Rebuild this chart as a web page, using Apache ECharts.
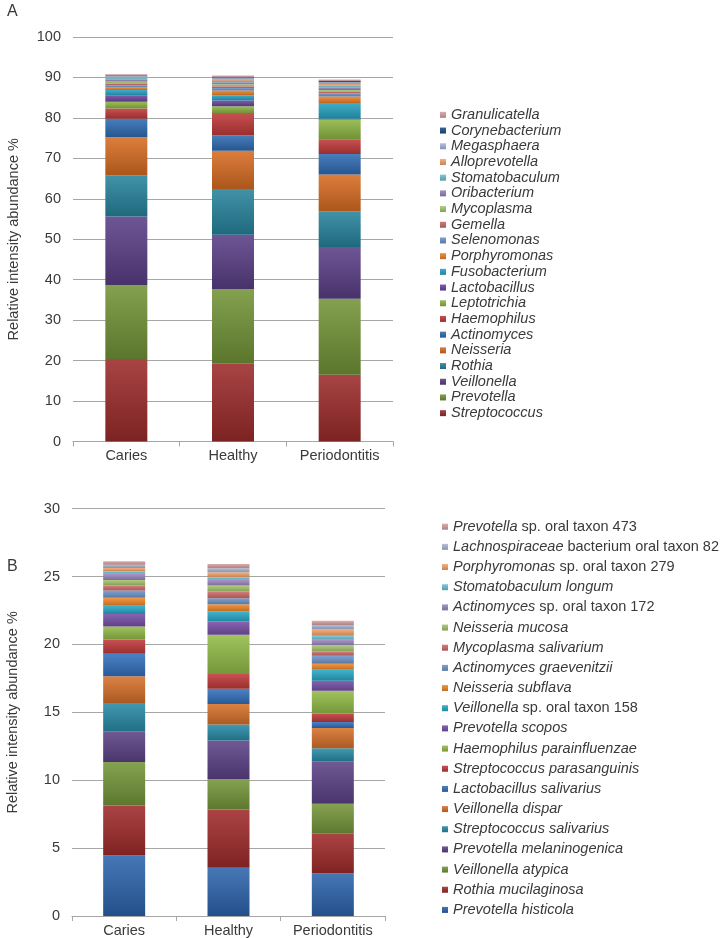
<!DOCTYPE html>
<html><head><meta charset="utf-8">
<script src="https://cdn.jsdelivr.net/npm/echarts@6/dist/echarts.min.js"></script>
<style>html,body{margin:0;padding:0;background:#fff}#c{width:720px;height:938px}</style>
</head><body><div id="c"></div>
<script>
const categories = ['Caries', 'Healthy', 'Periodontitis'];

const namesA = ['Streptococcus','Prevotella','Veillonella','Rothia','Neisseria','Actinomyces','Haemophilus','Leptotrichia','Lactobacillus','Fusobacterium','Porphyromonas','Selenomonas','Gemella','Mycoplasma','Oribacterium','Stomatobaculum','Alloprevotella','Megasphaera','Corynebacterium','Granulicatella'];
const valuesA_Caries        = [20.4, 18.3, 16.9, 10.2, 9.4, 4.6, 2.5, 1.7, 1.5, 1.4, 0.6, 0.6, 0.4, 0.5, 0.5, 0.4, 0.3, 0.3, 0.1, 0.2];
const valuesA_Healthy       = [19.2, 18.5, 13.4, 11.3, 9.5, 3.8, 5.5, 1.7, 1.4, 1.3, 1.2, 0.6, 0.4, 0.5, 0.5, 0.4, 0.4, 0.4, 0.2, 0.3];
const valuesA_Periodontitis = [16.5, 18.8, 12.8, 8.8, 9.1, 5.1, 3.6, 4.9, 0.2, 3.9, 1.6, 0.8, 0.4, 0.4, 0.6, 0.5, 0.4, 0.4, 0.4, 0.3];

const namesB = ['Prevotella histicola','Rothia mucilaginosa','Veillonella atypica','Prevotella melaninogenica','Streptococcus salivarius','Veillonella dispar','Lactobacillus salivarius','Streptococcus parasanguinis','Haemophilus parainfluenzae','Prevotella scopos','Veillonella sp. oral taxon 158','Neisseria subflava','Actinomyces graevenitzii','Mycoplasma salivarium','Neisseria mucosa','Actinomyces sp. oral taxon 172','Stomatobaculum longum','Porphyromonas sp. oral taxon 279','Lachnospiraceae bacterium oral taxon 82','Prevotella sp. oral taxon 473'];
const valuesB_Caries        = [4.46, 3.68, 3.21, 2.25, 2.09, 1.96, 1.67, 1.05, 0.95, 0.93, 0.60, 0.59, 0.53, 0.37, 0.41, 0.45, 0.19, 0.25, 0.24, 0.25];
const valuesB_Healthy       = [3.56, 4.29, 2.25, 2.82, 1.18, 1.52, 1.12, 1.08, 2.89, 0.98, 0.74, 0.54, 0.44, 0.49, 0.44, 0.42, 0.19, 0.37, 0.30, 0.31];
const valuesB_Periodontitis = [3.14, 2.92, 2.20, 3.14, 0.95, 1.50, 0.44, 0.61, 1.70, 0.73, 0.81, 0.44, 0.59, 0.32, 0.45, 0.40, 0.30, 0.50, 0.30, 0.30];

const ticksA = [0,10,20,30,40,50,60,70,80,90,100];
const ticksB = [0,5,10,15,20,25,30];

const colorsA = ['#9c2b2a','#729437','#5a3f86','#27839c','#d76c22','#2f6cb3','#c0393a','#8db542','#6d45a0','#27a2c2','#ee8228','#6f94cb','#cf6a69','#a7c86e','#9883bd','#6cc0d5','#f5a56b','#a8b8d8','#1f4e8c','#d8a0a0'];
const colorsB = ['#2d64ac','#a02b2b','#74963a','#5c4287','#288ba6','#d6702a','#3371bd','#c0393a','#93bc48','#7750a6','#28a9c7','#ef892a','#6f95cc','#cf6b6b','#a6c66e','#9c88c0','#70c2d6','#f5a46a','#a9b9d8','#d8a2a2'];

function shade(hex, f) {
  const n = parseInt(hex.slice(1), 16);
  let r = (n >> 16) & 255, g = (n >> 8) & 255, b = n & 255;
  if (f >= 0) { r += (255 - r) * f; g += (255 - g) * f; b += (255 - b) * f; }
  else { r *= (1 + f); g *= (1 + f); b *= (1 + f); }
  return 'rgb(' + Math.round(r) + ',' + Math.round(g) + ',' + Math.round(b) + ')';
}
function grad(hex) {
  return new echarts.graphic.LinearGradient(0, 0, 0, 1, [
    { offset: 0, color: shade(hex, 0.12) },
    { offset: 1, color: shade(hex, -0.2) }
  ]);
}

const font = '"Liberation Sans", Arial, sans-serif';
const txt = '#3a3a3a';

function legendFmt(name) {
  const m = name.match(/^(\S+)( (sp\.|bacterium) .*)$/);
  if (m) return '{i|' + m[1] + '}{n|' + m[2] + '}';
  return '{i|' + name + '}';
}
function makeRich(lh) {
  return {
    i: { fontStyle: 'italic', fontSize: 14.5, fontFamily: font, color: txt, lineHeight: lh },
    n: { fontStyle: 'normal', fontSize: 14.5, fontFamily: font, color: txt, lineHeight: lh }
  };
}

const series = [];
namesA.forEach((n, k) => {
  series.push({
    name: n, type: 'bar', stack: 'A', xAxisIndex: 0, yAxisIndex: 0, barWidth: 42,
    itemStyle: { color: grad(colorsA[k]) },
    data: [valuesA_Caries[k], valuesA_Healthy[k], valuesA_Periodontitis[k]]
  });
});
namesB.forEach((n, k) => {
  series.push({
    name: n, type: 'bar', stack: 'B', xAxisIndex: 1, yAxisIndex: 1, barWidth: 42,
    itemStyle: { color: grad(colorsB[k]) },
    data: [valuesB_Caries[k], valuesB_Healthy[k], valuesB_Periodontitis[k]]
  });
});

function xAxis(gi) {
  return {
    type: 'category', gridIndex: gi, data: categories,
    axisLine: { lineStyle: { color: '#a6a6a6', width: 1 } },
    axisTick: { show: true, length: 5, lineStyle: { color: '#a6a6a6' } },
    axisLabel: { color: txt, fontSize: 14.5, fontFamily: font, margin: 7 }
  };
}
function yAxis(gi, ticks) {
  return {
    type: 'value', gridIndex: gi, min: ticks[0], max: ticks[ticks.length - 1],
    interval: ticks[1] - ticks[0],
    name: 'Relative intensity abundance %', nameLocation: 'middle', nameGap: 52,
    nameTextStyle: { color: txt, fontSize: 14.5, fontFamily: font },
    axisLine: { show: false }, axisTick: { show: false },
    axisLabel: { color: txt, fontSize: 14.5, fontFamily: font, margin: 12 },
    splitLine: { lineStyle: { color: '#a6a6a6', width: 1 } }
  };
}

const chart = echarts.init(document.getElementById('c'), null, { renderer: 'canvas' });
chart.setOption({
  animation: false,
  backgroundColor: '#fff',
  grid: [
    { left: 73, width: 320, top: 37, height: 404.5 },
    { left: 72, width: 313, top: 508.7, height: 408 }
  ],
  xAxis: [xAxis(0), xAxis(1)],
  yAxis: [yAxis(0, ticksA), yAxis(1, ticksB)],
  legend: [
    {
      data: namesA.slice().reverse(), orient: 'vertical', left: 440, top: 107, padding: 0,
      icon: 'rect', itemWidth: 6, itemHeight: 6, itemGap: 0,
      textStyle: { lineHeight: 15.7, rich: makeRich(15.7), fontSize: 14.5, fontFamily: font, color: txt },
      formatter: legendFmt, selectedMode: false
    },
    {
      data: namesB.slice().reverse(), orient: 'vertical', left: 442, top: 516.6, padding: 0,
      icon: 'rect', itemWidth: 6, itemHeight: 6, itemGap: 0,
      textStyle: { lineHeight: 20.17, rich: makeRich(20.17), fontSize: 14.5, fontFamily: font, color: txt },
      formatter: legendFmt, selectedMode: false
    }
  ],
  graphic: [
    { type: 'text', left: 7, top: 4, style: { text: 'A', fontSize: 16, fontFamily: font, fill: txt } },
    { type: 'text', left: 7, top: 559, style: { text: 'B', fontSize: 16, fontFamily: font, fill: txt } }
  ],
  series: series
});
</script></body></html>
